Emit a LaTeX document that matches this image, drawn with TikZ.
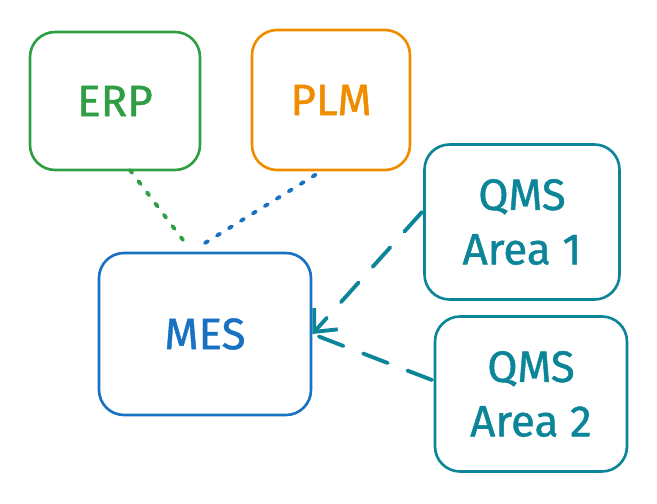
\documentclass[tikz,border=0pt]{standalone}
\usepackage{fontspec}
\setmainfont{Fira Sans}
\usetikzlibrary{arrows.meta}
\definecolor{erpgreen}{HTML}{2F9E44}
\definecolor{plmorange}{HTML}{F08C00}
\definecolor{mesblue}{HTML}{1971C2}
\definecolor{qmsteal}{HTML}{0C8599}
\tikzset{
    sys/.style={draw, line width=1.5pt, rounded corners=0.5cm, align=center,
        font=\fontsize{25}{31}\selectfont\addfontfeatures{FakeBold=1}, inner sep=0pt},
    link/.style={line width=2.2pt, line cap=round}
}
\begin{document}
\begin{tikzpicture}[x=0.02cm, y=-0.02cm]
    \useasboundingbox (0, 0) rectangle (657, 504);
    % systems
    \node[sys, erpgreen, minimum width=3.4cm, minimum height=2.76cm] (ERP) at (115, 101) {ERP};
    \node[sys, plmorange, minimum width=3.16cm, minimum height=2.8cm] (PLM) at (331, 100) {PLM};
    \node[sys, mesblue, minimum width=4.24cm, minimum height=3.24cm] (MES) at (205, 334) {MES};
    \node[sys, qmsteal, minimum width=3.9cm, minimum height=3.1cm] (QMS-1) at (522, 222) {QMS\\Area 1};
    \node[sys, qmsteal, minimum width=3.84cm, minimum height=3.1cm] (QMS-2) at (531, 394) {QMS\\Area 2};
    % free ends
    \coordinate (ERP-end) at (183, 240);
    \coordinate (PLM-end) at (205, 243);
    \coordinate (QMS1-start) at (422, 212);
    \coordinate (QMS2-start) at (432, 380);
    % connections
    \draw[link, erpgreen, dash pattern=on 2pt off 6pt] (130, 170) -- (ERP-end);
    \draw[link, mesblue, dash pattern=on 2pt off 6pt] (PLM-end) -- (320, 172);
    \draw[link, qmsteal, dash pattern=on 15pt off 12pt, -{Straight Barb[length=10pt, width=18pt]}] (QMS1-start) -- (MES.east);
    \draw[link, qmsteal, dash pattern=on 15pt off 12pt] (QMS2-start) -- (MES.east);
\end{tikzpicture}
\end{document}
